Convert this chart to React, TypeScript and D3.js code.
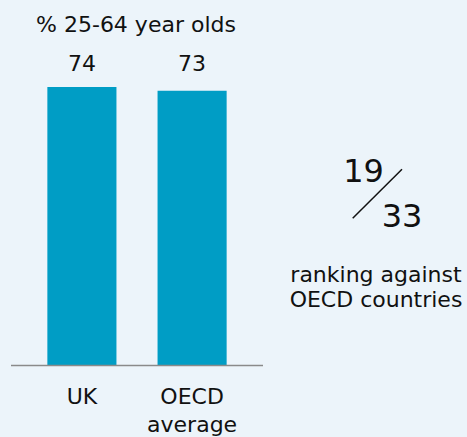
import React from "react";
import * as d3 from "d3";

const categories = ["UK", "OECD\naverage"];
const values = [74, 73];
const title = "% 25-64 year olds";
const rankNumerator = "19";
const rankDenominator = "33";
const rankLabel = ["ranking against", "OECD countries"];

const W = 467;
const H = 437;
const BG = "#ecf4fa";
const BAR = "#009dc5";
const FONT = "'DejaVu Sans', 'Liberation Sans', Arial, sans-serif";

export default function App() {
  const x = d3.scaleBand<string>().domain(categories).range([11, 263]).paddingInner(0.373).paddingOuter(0.33);
  const y = d3.scaleLinear().domain([0, 74]).range([365, 87]);
  return (
    <svg width={W} height={H} style={{ position: "absolute", left: 0, top: 0, background: BG }}>
      <rect x={0} y={0} width={W} height={H} fill={BG} />
      <text x={136} y={32} textAnchor="middle" fontFamily={FONT} fontSize={22} fill="#111">{title}</text>
      {categories.map((c, i) => (
        <g key={c}>
          <rect x={x(c)} y={y(values[i])} width={x.bandwidth()} height={y(0) - y(values[i])} fill={BAR} />
          <text x={(x(c) as number) + x.bandwidth() / 2} y={71} textAnchor="middle" fontFamily={FONT} fontSize={22} fill="#111">{values[i]}</text>
          {c.split("\n").map((line, j) => (
            <text key={j} x={(x(c) as number) + x.bandwidth() / 2} y={404 + j * 28} textAnchor="middle" fontFamily={FONT} fontSize={22} fill="#111">{line}</text>
          ))}
        </g>
      ))}
      <line x1={11} x2={263} y1={365.5} y2={365.5} stroke="#8a8a8a" strokeWidth={1.5} />
      <text x={363.5} y={181.7} textAnchor="middle" fontFamily={FONT} fontSize={32} fill="#111">{rankNumerator}</text>
      <line x1={352.7} y1={218.3} x2={402} y2={169.3} stroke="#111" strokeWidth={1.5} />
      <text x={402} y={226.7} textAnchor="middle" fontFamily={FONT} fontSize={32} fill="#111">{rankDenominator}</text>
      {rankLabel.map((l, i) => (
        <text key={i} x={376} y={281.7 + i * 25.6} textAnchor="middle" fontFamily={FONT} fontSize={22} fill="#111">{l}</text>
      ))}
    </svg>
  );
}
